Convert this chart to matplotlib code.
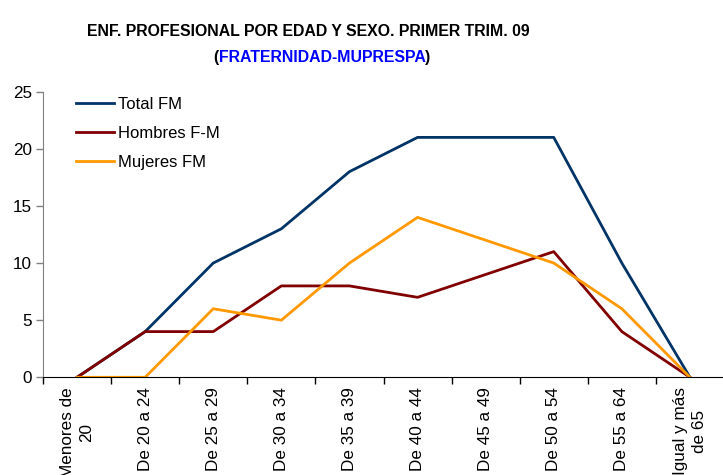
import matplotlib
matplotlib.use("Agg")
import matplotlib.pyplot as plt
import numpy as np

categories = ["Menores de\n20", "De 20 a 24", "De 25 a 29", "De 30 a 34", "De 35 a 39",
              "De 40 a 44", "De 45 a 49", "De 50 a 54", "De 55 a 64", "Igual y más\nde 65"]
total_fm = [0, 4, 10, 13, 18, 21, 21, 21, 10, 0]
hombres_fm = [0, 4, 4, 8, 8, 7, 9, 11, 4, 0]
mujeres_fm = [0, 0, 6, 5, 10, 14, 12, 10, 6, 0]
yticks = [0, 5, 10, 15, 20, 25]

plt.rcParams['font.family'] = ['Liberation Sans', 'DejaVu Sans']

fig = plt.figure(figsize=(7.23, 4.75), dpi=100)
ax = fig.add_axes([43/723, 1-377.3/475, 681/723, (377.3-91.7)/475])

x = np.arange(len(categories))
ax.plot(x, total_fm, color='#003366', lw=2, label='Total FM')
ax.plot(x, hombres_fm, color='#800000', lw=2, label='Hombres F-M')
ax.plot(x, mujeres_fm, color='#FF9900', lw=2, label='Mujeres FM')

ax.set_xlim(-0.5, len(categories) - 0.5)
ax.set_ylim(0, 25)
ax.set_yticks(yticks)
ax.tick_params(axis='y', labelsize=12.3, length=5, width=1, color='#808080', pad=3)
ax.set_xticks(x)
ax.set_xticklabels(categories, rotation=90, ha='center', va='top', fontsize=12.3,
                   multialignment='center', linespacing=1.4)
ax.tick_params(axis='x', which='major', length=0, pad=7)
ax.set_xticks(np.arange(len(categories)) - 0.5, minor=True)
ax.tick_params(axis='x', which='minor', length=5, width=1, color='black')

for s in ['top', 'right']:
    ax.spines[s].set_visible(False)
ax.spines['left'].set_color('#808080')
ax.spines['bottom'].set_color('black')

leg = ax.legend(loc='upper left', bbox_to_anchor=(0.026, 1.035), frameon=False,
                fontsize=12, handlelength=2.3, handletextpad=0.25, labelspacing=0.85)

TS = 11.4
fig.text(308.5/723, 0.934, "ENF. PROFESIONAL POR EDAD Y SEXO. PRIMER TRIM. 09",
         ha='center', va='center', fontsize=TS, fontweight='bold')

mid = fig.text(322/723, 0.878, "FRATERNIDAD-MUPRESPA", ha='center', va='center', fontsize=TS,
               fontweight='bold', color='#0000FF')
fig.canvas.draw()
r = fig.canvas.get_renderer()
bb = mid.get_window_extent(r).transformed(fig.transFigure.inverted())
fig.text(bb.x0, 0.878, "(", ha='right', va='center', fontsize=TS, fontweight='bold')
fig.text(bb.x1, 0.878, ")", ha='left', va='center', fontsize=TS, fontweight='bold')

fig.savefig('out.png', dpi=100)
